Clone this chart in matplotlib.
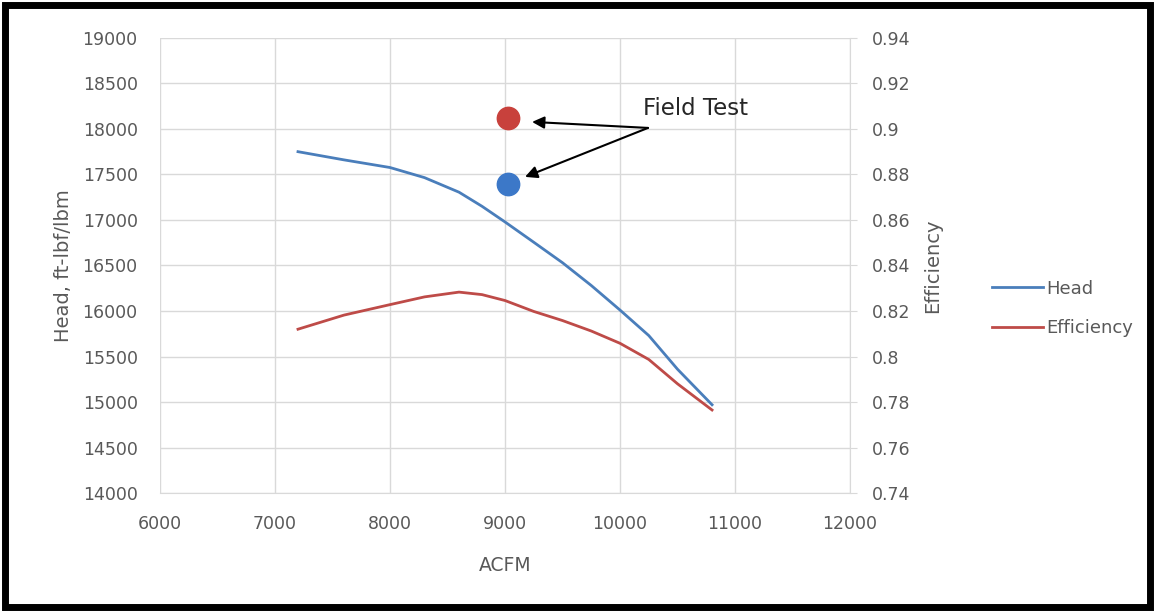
import numpy as np
import matplotlib
matplotlib.use('Agg')
import matplotlib.pyplot as plt
from matplotlib.patches import Rectangle

# curve data
acfm = [7200, 7600, 8000, 8300, 8600, 8800, 9000, 9250, 9500, 9750, 10000, 10250, 10500, 10800]
head = [17750, 17660, 17576, 17465, 17305, 17150, 16978, 16755, 16530, 16280, 16010, 15730, 15360, 14970]
eff = [0.812, 0.8182, 0.8228, 0.8262, 0.8283, 0.8272, 0.8246, 0.8198, 0.8158, 0.8112, 0.8058, 0.7987, 0.788, 0.7765]

# field test points
test_acfm = 9030
test_head = 17400
test_eff = 0.905

blue = '#4a7ebb'
red = '#be4b48'
grey = '#595959'
gridc = '#d9d9d9'

plt.rcParams['font.family'] = 'DejaVu Sans'
fig = plt.figure(figsize=(11.55, 6.11), dpi=100)
ax = fig.add_axes([0.1385, 0.193, 0.5975, 0.745])
ax2 = ax.twinx()

ax.plot(acfm, head, c=blue, lw=2, label='Head', zorder=3)
ax2.plot(acfm, eff, c=red, lw=2, label='Efficiency', zorder=3)
ax.scatter([test_acfm], [test_head], s=260, c='#3c78c8', zorder=4)
ax2.scatter([test_acfm], [test_eff], s=260, c='#c8413c', zorder=4)

ax.set_xlim(6000, 12000)
ax.set_ylim(14000, 19000)
ax2.set_ylim(0.74, 0.94)
ax.set_xticks(np.arange(6000, 12001, 1000))
ax.set_yticks(np.arange(14000, 19001, 500))
effticks = np.round(np.arange(0.74, 0.9401, 0.02), 2)
ax2.set_yticks(effticks)
ax2.set_yticklabels([('%.2f' % v).rstrip('0').rstrip('.') for v in effticks])

ax.grid(True, color=gridc, lw=1)
ax.set_axisbelow(True)
for a in (ax, ax2):
    for s in a.spines.values():
        s.set_visible(False)
    a.tick_params(colors=grey, labelsize=12.5, length=0)
ax.spines['bottom'].set_visible(True)
ax.spines['bottom'].set_color(gridc)
ax2.spines['right'].set_visible(True)
ax2.spines['right'].set_color(gridc)
ax.tick_params(axis='x', pad=16)
ax.tick_params(axis='y', pad=16)
ax2.tick_params(axis='y', length=5, color=gridc, direction='out', pad=11)

ax.set_xlabel('ACFM', color=grey, fontsize=13.5, labelpad=16)
ax.set_ylabel('Head, ft-lbf/lbm', color=grey, fontsize=14, labelpad=7)
ax2.set_ylabel('Efficiency', color=grey, fontsize=14, labelpad=9)

# field test callout
ax.text(10652, 18220, 'Field Test', fontsize=16.5, color='#262626', ha='center', va='center')
ax.annotate('', xy=(9235, 18077), xytext=(10243, 18011),
            arrowprops=dict(arrowstyle='-|>', color='black', lw=1.5,
                            shrinkA=0, shrinkB=0, mutation_scale=18))
ax.annotate('', xy=(9174, 17473), xytext=(10243, 18011),
            arrowprops=dict(arrowstyle='-|>', color='black', lw=1.5,
                            shrinkA=0, shrinkB=0, mutation_scale=18))

h1, l1 = ax.get_legend_handles_labels()
h2, l2 = ax2.get_legend_handles_labels()
fig.legend(h1 + h2, l1 + l2, loc='center left', bbox_to_anchor=(0.859, 0.495),
           frameon=False, fontsize=13, handlelength=2.8, handletextpad=0.2,
           labelspacing=1.2, borderpad=0, borderaxespad=0, labelcolor=grey)

# black frame around the picture
fig.patches.append(Rectangle((0.004, 0.006), 0.992, 0.985, transform=fig.transFigure,
                             fill=False, ec='black', lw=5))

fig.savefig('out.png', dpi=100)
